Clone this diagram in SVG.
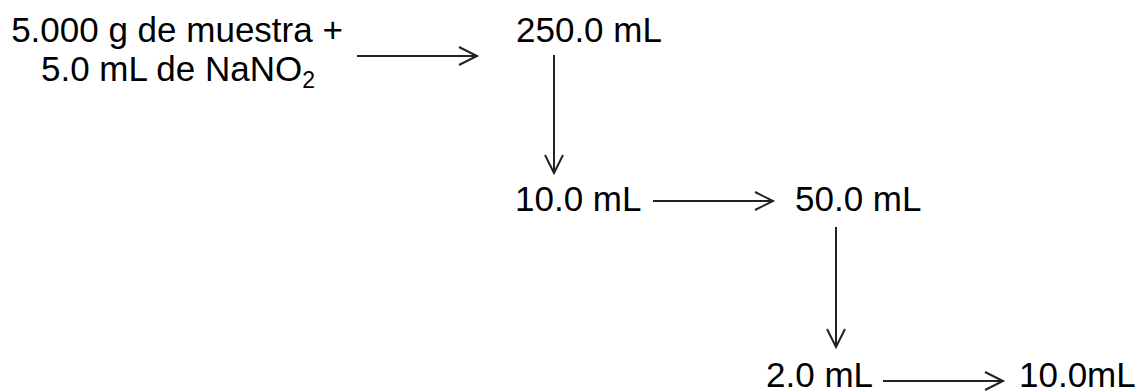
<svg xmlns="http://www.w3.org/2000/svg" width="1139" height="392" viewBox="0 0 1139 392">
<style>
text{font-family:"Liberation Sans",Arial,sans-serif;font-size:35px;fill:#000}
.c line{stroke:#222;stroke-width:2;fill:none}
.c polyline{stroke:#222;stroke-width:2;fill:none}
</style>
<rect width="1139" height="392" fill="#fff"/>
<g id="n1"><text x="177" y="42" text-anchor="middle">5.000 g de muestra +</text><text x="178" y="81" text-anchor="middle">5.0 mL de NaNO<tspan font-size="23" dy="7">2</tspan></text></g>
<g id="n2"><text x="516" y="42">250.0 mL</text></g>
<g id="n3"><text x="515" y="211">10.0 mL</text></g>
<g id="n4"><text x="795" y="211">50.0 mL</text></g>
<g id="n5"><text x="766" y="387">2.0 mL</text></g>
<g id="n6"><text x="1019" y="387">10.0mL</text></g>
<g class="c" id="connectors">
<line x1="357" y1="56" x2="477" y2="56"/><polyline points="459,47 477,56 459,65"/>
<line x1="554" y1="55" x2="554" y2="173"/><polyline points="545,155 554,173 563,155"/>
<line x1="653" y1="201" x2="773" y2="201"/><polyline points="755,192 773,201 755,210"/>
<line x1="836" y1="227" x2="836" y2="347"/><polyline points="827,329 836,347 845,329"/>
<line x1="883" y1="381" x2="1003" y2="381"/><polyline points="985,372 1003,381 985,390"/>
</g>
</svg>
